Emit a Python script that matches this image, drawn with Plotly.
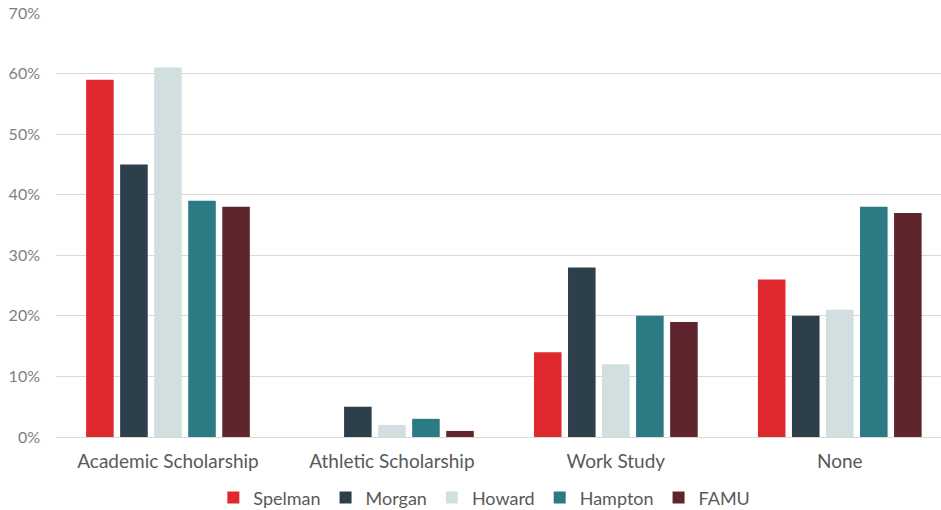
import plotly.graph_objects as go

categories = ["Academic Scholarship", "Athletic Scholarship", "Work Study", "None"]
schools = ["Spelman", "Morgan", "Howard", "Hampton", "FAMU"]
spelman = [59, 0, 14, 26]
morgan = [45, 5, 28, 20]
howard = [61, 2, 12, 21]
hampton = [39, 3, 20, 38]
famu = [38, 1, 19, 37]
y_ticks = [0, 10, 20, 30, 40, 50, 60, 70]
y_tick_labels = ["0%", "10%", "20%", "30%", "40%", "50%", "60%", "70%"]

series = [spelman, morgan, howard, hampton, famu]
colors = ["#E0282F", "#2D3F4B", "#D2DFE0", "#2C7A83", "#5E262C"]

fig = go.Figure()
for name, vals, col in zip(schools, series, colors):
    fig.add_trace(go.Bar(
        x=categories, y=vals, name=name,
        marker=dict(color=col, line=dict(width=0)),
    ))

font_family = "Lato, 'Open Sans', sans-serif"
fig.update_layout(
    width=941, height=510,
    margin=dict(l=56, r=0, t=13, b=73, autoexpand=False),
    paper_bgcolor="white", plot_bgcolor="white",
    barmode="group", bargap=0.24, bargroupgap=0.19,
    font=dict(family=font_family, color="#595959", size=16),
    showlegend=True,
    legend=dict(orientation="h", x=0.484, xanchor="center", y=-0.1, yanchor="top",
                font=dict(size=18, color="#595959"), itemwidth=30,
                tracegroupgap=0, traceorder="normal"),
    xaxis=dict(range=[-0.5, 3.452], showgrid=False, showline=False, zeroline=False,
               automargin=False,
               tickfont=dict(size=19, color="#595959"), ticklabelstandoff=11),
    yaxis=dict(range=[0, 70], tickvals=y_ticks, ticktext=y_tick_labels,
               automargin=False,
               showgrid=True, gridcolor="#D9D9D9", gridwidth=1.3,
               zeroline=True, zerolinecolor="#D9D9D9", zerolinewidth=1.3,
               showline=False, tickfont=dict(size=16, color="#7F7F7F"),
               ticklabelstandoff=15),
)

fig.write_html("out.html",
               config={"displayModeBar": False},
               post_script="document.body.style.margin='0';document.body.style.overflow='hidden';")
